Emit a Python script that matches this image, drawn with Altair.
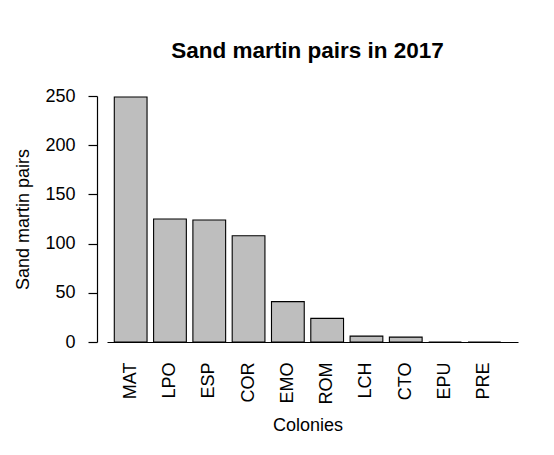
import altair as alt
import pandas as pd

colonies = ["MAT", "LPO", "ESP", "COR", "EMO", "ROM", "LCH", "CTO", "EPU", "PRE"]
pairs = [249, 125, 124, 108, 41, 24, 6, 5, 0, 0]
y_ticks = [0, 50, 100, 150, 200, 250]

df = pd.DataFrame({"colony": colonies, "pairs": pairs})
FONT = "Liberation Sans"

bars = alt.Chart(df).mark_bar(
    fill="#bebebe", stroke="black", strokeWidth=1.1
).encode(
    x=alt.X(
        "colony:N",
        sort=colonies,
        scale=alt.Scale(paddingInner=0.1667, paddingOuter=0.3125, align=0.297),
        axis=alt.Axis(
            title="Colonies",
            labelAngle=270,
            labelAlign="right",
            labelBaseline="middle",
            ticks=False,
            tickSize=0,
            labelPadding=20,
            domainColor="black",
            domainWidth=1.2,
            labelFont=FONT,
            labelFontSize=18,
            labelColor="black",
            titleFont=FONT,
            titleFontSize=18,
            titleFontWeight="normal",
            titleColor="black",
            titleX=200.5,
            titleY=88,
            titleBaseline="alphabetic",
            titleAlign="center",
        ),
    ),
    y=alt.Y(
        "pairs:Q",
        scale=alt.Scale(domain=[0, 250], nice=False),
        axis=alt.Axis(
            title="Sand martin pairs",
            values=y_ticks,
            offset=10,
            tickSize=9,
            tickColor="black",
            tickWidth=1.2,
            labelPadding=13,
            grid=False,
            domainColor="black",
            domainWidth=1.2,
            labelFont=FONT,
            labelFontSize=18,
            labelColor="black",
            titleFont=FONT,
            titleFontSize=18,
            titleFontWeight="normal",
            titleColor="black",
            titleX=-69,
            titleY=123,
            titleBaseline="alphabetic",
            titleAlign="center",
        ),
    ),
)

chart = bars.properties(
    width=411,
    height=246,
    autosize=alt.AutoSizeParams(type="none"),
    padding={"left": 99, "top": 88, "right": 20, "bottom": 100},
    title=alt.Title(
        "Sand martin pairs in 2017",
        font=FONT,
        fontSize=22.5,
        fontWeight="bold",
        color="black",
        offset=25,
        dx=-5,
    ),
).configure_view(stroke=None)

chart.save("out.html", embed_options={"renderer": "svg", "actions": False})
